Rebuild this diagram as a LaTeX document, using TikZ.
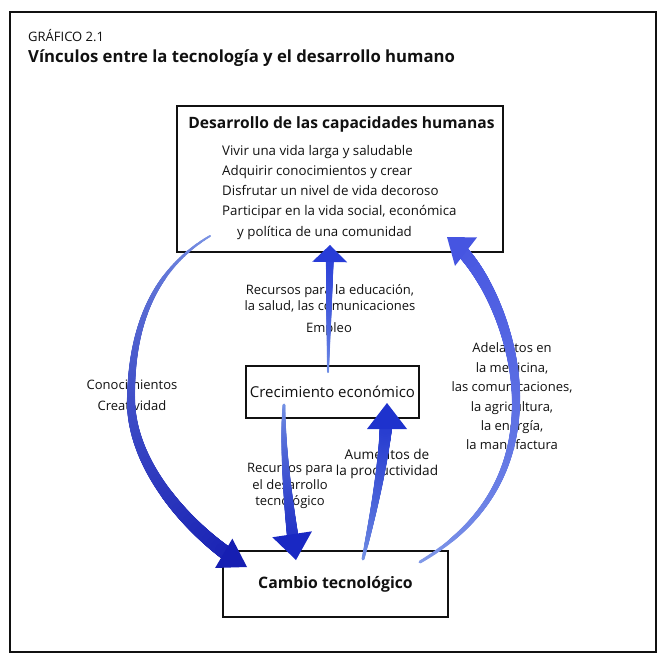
\documentclass[tikz,border=0pt]{standalone}
\usepackage{fontspec}
\setmainfont{Open Sans}
\usetikzlibrary{decorations.markings,calc}
\definecolor{ink}{HTML}{111111}
\definecolor{laTail}{RGB}{125,150,230}
\definecolor{laHead}{RGB}{22,30,178}
\definecolor{raTail}{RGB}{130,155,232}
\definecolor{raHead}{RGB}{70,85,225}
\definecolor{upTail}{RGB}{115,145,230}
\definecolor{upHead}{RGB}{40,60,215}
\definecolor{dnTail}{RGB}{120,150,230}
\definecolor{dnHead}{RGB}{25,40,195}
\definecolor{buTail}{RGB}{120,150,230}
\definecolor{buHead}{RGB}{30,50,205}
\tikzset{
  taperset/.code n args={5}{\def\tpwA{#1}\def\tpwB{#2}\def\tphl{#3}\def\tpcA{#4}\def\tpcB{#5}},
  taper/.style n args={5}{taperset={#1}{#2}{#3}{#4}{#5},
    decorate, decoration={markings,
      mark=between positions 0 and -\tphl pt step 0.4pt with {%
        \pgfmathsetmacro\tpf{\pgfkeysvalueof{/pgf/decoration/mark info/distance from start}/\pgfdecoratedpathlength}%
        \pgfmathsetmacro\tpr{(\tpwA+(\tpwB-\tpwA)*\tpf)/2}%
        \pgfmathtruncatemacro\tpp{100*min(1,\tpf^0.7)}%
        \fill[\tpcB!\tpp!\tpcA] (0pt,0pt) circle (\tpr pt);}
    }},
  box/.style={draw=ink, line width=1.5pt, inner sep=0pt},
  lbl/.style={text=ink, align=center, inner sep=0pt, font=\fontsize{13}{16.5}\selectfont},
}
% arrow head: tip, point it comes from, length, half width, colour
\newcommand\tphead[5]{\fill[#5] (#1) -- ($(#1)!#3pt!(#2)!#4pt!90:(#1)$) -- ($(#1)!#3pt!(#2)!#4pt!-90:(#1)$) -- cycle;}
\begin{document}
\begin{tikzpicture}[x=1pt,y=-1pt]
\useasboundingbox (0,0) rectangle (660,658);
\fill[white] (0,0) rectangle (660,658);
% frame
\draw[ink, line width=1.8pt] (10,12) rectangle (656,652);
% title
\node[anchor=west, text=ink, inner sep=0pt, font=\fontsize{13}{15}\selectfont] (fig) at (28,36) {GRÁFICO 2.1};
\node[anchor=west, text=ink, inner sep=0pt, font=\bfseries\fontsize{16.7}{19}\selectfont] (title) at (28,58) {Vínculos entre la tecnología y el desarrollo humano};
% boxes
\node[box, minimum width=326pt, minimum height=146pt] (top) at (340,179) {};
\node[text=ink, inner sep=0pt, font=\bfseries\fontsize{15.6}{17}\selectfont] (toptitle) at (341.5,124) {Desarrollo de las capacidades humanas};
\node[anchor=north west, align=left, text=ink, inner sep=0pt, font=\fontsize{13.3}{20.2}\selectfont] (items) at (222,145)
  {Vivir una vida larga y saludable\\Adquirir conocimientos y crear\\Disfrutar un nivel de vida decoroso\\Participar en la vida social, económica\\\hspace*{15pt}y política de una comunidad};
\node[box, minimum width=173pt, minimum height=52pt, text=ink, font=\fontsize{15}{18}\selectfont] (mid) at (332.5,392) {Crecimiento económico};
\node[box, minimum width=225pt, minimum height=66pt, text=ink, font=\bfseries\fontsize{15.8}{18}\selectfont] (bot) at (335.5,584) {Cambio tecnológico};
% labels
\node[lbl] (lrec) at (330,298.5) {Recursos para la educación,\\la salud, las comunicaciones};
\node[lbl] (lemp) at (329,329) {Empleo};
\node[lbl, font=\fontsize{13}{21}\selectfont] (lcon) at (132,395.5) {Conocimientos\\Creatividad};
\node[lbl, font=\fontsize{13}{19.4}\selectfont] (lade) at (512,396.5) {Adelantos en\\la medicina,\\las comunicaciones,\\la agricultura,\\la energía,\\la manufactura};
\node[lbl, font=\fontsize{13.6}{16}\selectfont] (laum) at (387,464) {Aumentos de\\la productividad};
\node[lbl] (lrtec) at (290,486) {Recursos para\\el desarrollo\\tecnológico};
% arrow end points and control points
\coordinate (a1s) at (210,236); \coordinate (a1m) at (131,400); \coordinate (a1e) at (247,567);
\coordinate (a1c) at (196,537);
\coordinate (a2s) at (420,562); \coordinate (a2m) at (516,400); \coordinate (a2e) at (447,237);
\coordinate (a2c) at (486.5,267.5);
\coordinate (a3s) at (328,372); \coordinate (a3e) at (330,245);
\coordinate (a4s) at (284,405); \coordinate (a4e) at (296,560);
\coordinate (a4c) at (290,520);
\coordinate (a5s) at (363,559); \coordinate (a5e) at (387,403);
\coordinate (a5c) at (387,450);
% arrows
\path[taper={2}{15}{26}{laTail}{laHead}] (a1s) .. controls (158,267) and (131,320) .. (a1m) .. controls (131,470) and (a1c) .. (a1e);
\tphead{a1e}{a1c}{27}{17}{laHead}
\path[taper={3}{13}{23}{raTail}{raHead}] (a2s) .. controls (500,515) and (516,450) .. (a2m) .. controls (516,340) and (a2c) .. (a2e);
\tphead{a2e}{a2c}{24}{18}{raHead}
\path[taper={2}{8.5}{16}{upTail}{upHead}] (a3s) -- (a3e);
\tphead{a3e}{a3s}{17}{17.5}{upHead}
\path[taper={3}{13}{25}{dnTail}{dnHead}] (a4s) .. controls (282,450) and (a4c) .. (a4e);
\tphead{a4e}{a4c}{26}{20}{dnHead}
\path[taper={3}{14}{25}{buTail}{buHead}] (a5s) .. controls (372,520) and (a5c) .. (a5e);
\tphead{a5e}{a5c}{26}{20}{buHead}
\end{tikzpicture}
\end{document}
